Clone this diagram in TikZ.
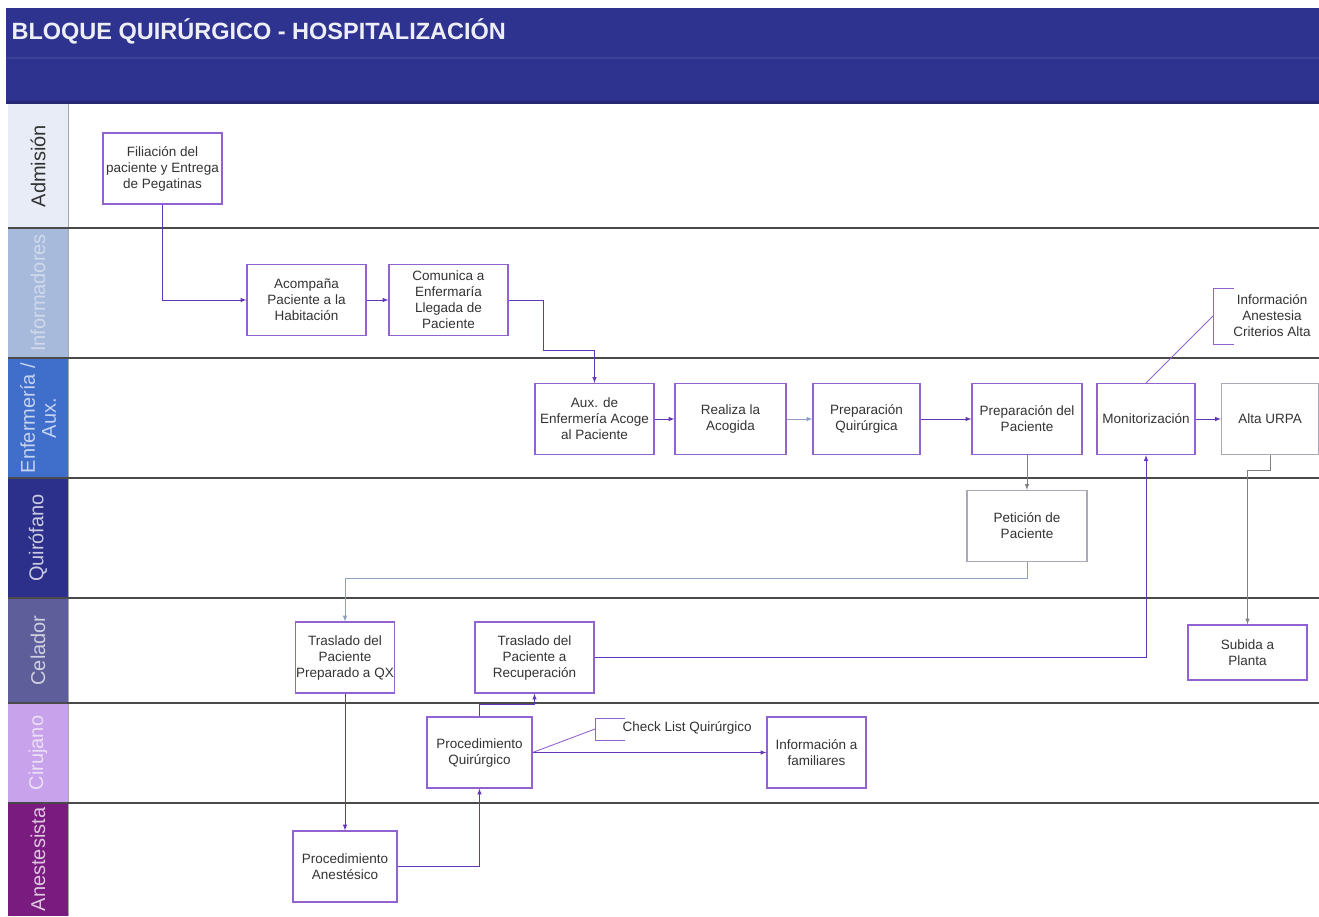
\documentclass[tikz,border=0pt]{standalone}
\usepackage{fontspec}
\setmainfont{Liberation Sans}
\usetikzlibrary{arrows}
\definecolor{cabecera}{HTML}{2F3390}
\definecolor{texto}{HTML}{333333}
\definecolor{borde}{HTML}{9163D2}
\definecolor{bordegris}{HTML}{A9A9B8}
\definecolor{linea}{HTML}{6236B8}
\definecolor{lineagris}{HTML}{8E9DC4}
\definecolor{separa}{HTML}{4A4A4A}
\definecolor{cadm}{HTML}{E7ECF6}
\definecolor{cinf}{HTML}{A7BADB}
\definecolor{cenf}{HTML}{3F6ECB}
\definecolor{cqui}{HTML}{2C308B}
\definecolor{ccel}{HTML}{5E5F9A}
\definecolor{ccir}{HTML}{C8A3EB}
\definecolor{cane}{HTML}{7A1C7F}

\begin{document}
\begin{tikzpicture}[x=1pt,y=-1pt]
	\tikzstyle{every node} = [font=\fontsize{13.5}{16}\selectfont, text=texto, align=center]
	\tikzstyle{proc} = [draw=borde, line width=1.2pt, fill=white, inner sep=1pt, minimum height=71pt]
	\tikzstyle{procgris} = [proc, draw=bordegris]
	\tikzstyle{flujo} = [draw=linea, line width=1pt, ->, >=latex]
	\tikzstyle{flujogris} = [flujo, draw=lineagris]
	\tikzstyle{nota} = [draw=borde, line width=0.9pt]
	\tikzstyle{carril} = [rotate=90, font=\fontsize{20}{21}\selectfont]
	\useasboundingbox (0,0) rectangle (1319,916);

	% cabecera
	\fill[cabecera] (6,8) rectangle (1319,104); \fill[cabecera!93!white] (6,57) rectangle (1319,59); \fill[cabecera!80!black] (6,101) rectangle (1319,104);
	\node[anchor=west, text=white!92!cabecera, font=\bfseries\fontsize{23.5}{26}\selectfont] (titulo) at (8,31) {BLOQUE QUIRÚRGICO - HOSPITALIZACIÓN};

	% carriles
	\foreach \ya/\yb/\col/\tc/\txt in {104/228/cadm/texto/Admisión, 228/358/cinf/cinf!55!white/Informadores, 358/478/cenf/cenf!30!white/{Enfermería /\\Aux.}, 478/598/cqui/cqui!25!white/Quirófano, 598/703/ccel/ccel!30!white/Celador, 703/803/ccir/ccir!35!white/Cirujano, 803/916/cane/cane!25!white/Anestesista}
		{\fill[\col] (8,\ya) rectangle (68,\yb); \node[carril, text=\tc] at (38,{(\ya+\yb)/2}) {\txt};}
	\draw[gray!70, line width=0.8pt] (68,104) -- (68,916);
	\foreach \y in {228,358,478,598,703,803}
		{\draw[separa, line width=1.8pt] (8,\y) -- (1319,\y);}

	% procesos
	\node[proc, minimum width=119pt] (filiacion) at (162.5,168.5) {Filiación del\\paciente y Entrega\\de Pegatinas};
	\node[proc, minimum width=119pt] (acompana) at (306.5,300) {Acompaña\\Paciente a la\\Habitación}; \node[proc, minimum width=119pt] (comunica) at (448.5,300) {Comunica a\\Enfermaría\\Llegada de\\Paciente};
	\node[proc, minimum width=119pt] (auxenf) at (594.5,419) {Aux. de\\Enfermería Acoge\\al Paciente}; \node[proc, minimum width=111pt] (acogida) at (730.5,419) {Realiza la\\Acogida}; \node[proc, minimum width=107pt] (prepq) at (866.5,419) {Preparación\\Quirúrgica};
	\node[proc, minimum width=110pt] (preppac) at (1027,419) {Preparación del\\Paciente}; \node[proc, minimum width=98pt] (monit) at (1146,419) {Monitorización}; \node[procgris, minimum width=97pt] (alta) at (1270,419) {Alta URPA};
	\node[procgris, minimum width=120pt] (peticion) at (1027,526) {Petición de\\Paciente};
	\node[proc, minimum width=98pt] (trasqx) at (345,657.5) {Traslado del\\Paciente\\Preparado a QX}; \node[proc, minimum width=119pt] (trasrec) at (534.5,657.5) {Traslado del\\Paciente a\\Recuperación}; \node[proc, minimum width=119pt, minimum height=55pt] (subida) at (1247.5,652.5) {Subida a\\Planta};
	\node[proc, minimum width=105pt] (procq) at (479.5,752.5) {Procedimiento\\Quirúrgico}; \node[proc, minimum width=99pt] (infofam) at (816.5,752.5) {Información a\\familiares};
	\node[proc, minimum width=104pt] (procan) at (345,866.5) {Procedimiento\\Anestésico};

	% notas
	\coordinate (notaA) at (1213,316); \coordinate (notaB) at (595,729);
	\draw[nota] (1234,288) -- (1213,288) -- (1213,344) -- (1234,344); \node (infoanest) at (1272,316) {Información\\Anestesia\\Criterios Alta};
	\draw[nota] (625,718) -- (595,718) -- (595,740) -- (625,740); \node[anchor=west] (checklist) at (619,728) {Check List Quirúrgico};
	\draw[nota] (monit.north) -- (notaA); \draw[nota] (procq.east) -- (notaB);

	% flujos
	\draw[flujo] (filiacion.south) |- (acompana.west); \draw[flujo] (acompana) -- (comunica);
	\draw[flujo] (comunica.east) -- (543,300) -- (543,350) -| (auxenf.north);
	\draw[flujo] (auxenf) -- (acogida); \draw[flujogris] (acogida) -- (prepq); \draw[flujo] (prepq) -- (preppac);
	\draw[flujogris, draw=gray] (preppac) -- (peticion);
	\draw[flujogris] (peticion.south) -- ++(0,16) -| (trasqx.north);
	\draw[flujo] (trasqx) -- (procan); \draw[flujo] (procan.east) -| (procq.south);
	\draw[flujo] (procq.north) -- ++(0,-12) -| (trasrec.south);
	\draw[flujo] (trasrec.east) -| (monit.south); \draw[flujo] (monit) -- (alta);
	\draw[flujogris, draw=gray] (alta.south) -- ++(0,15) -| (subida.north);
	\draw[flujo] (procq) -- (infofam);
\end{tikzpicture}
\end{document}
